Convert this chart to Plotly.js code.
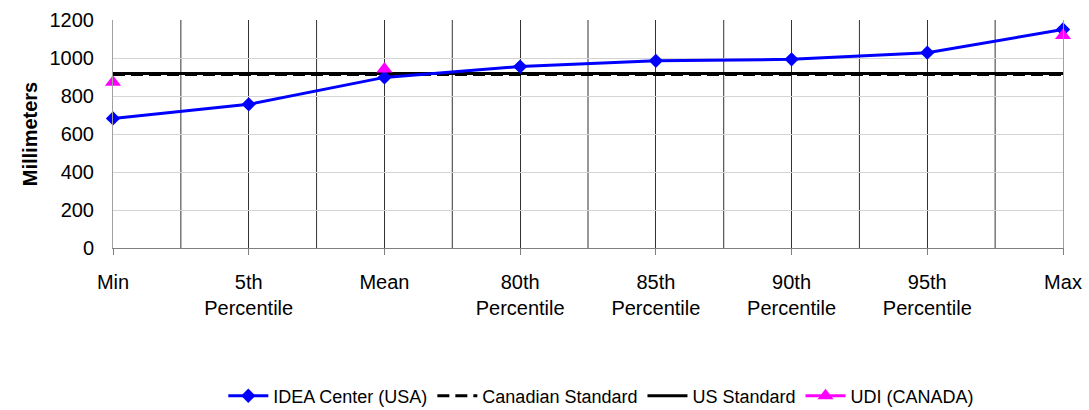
<!DOCTYPE html>
<html>
<head>
<meta charset="utf-8">
<script src="https://cdn.plot.ly/plotly-3.0.1.min.js"></script>
<style>html,body{margin:0;padding:0;background:#fff}#chart{width:1089px;height:410px}</style>
</head>
<body>
<div id="chart"></div>
<script>
const categories = ["Min", "5th Percentile", "Mean", "80th Percentile", "85th Percentile", "90th Percentile", "95th Percentile", "Max"];
const tickLabels = ["Min", "5th<br>Percentile", "Mean", "80th<br>Percentile", "85th<br>Percentile", "90th<br>Percentile", "95th<br>Percentile", "Max"];
const ideaCenter = [682, 756, 898, 955, 985, 993, 1028, 1150];
const canadianStandard = [913, 913, 913, 913, 913, 913, 913, 913];
const usStandard = [918, 918, 918, 918, 918, 918, 918, 918];
const udiCanada = [872, null, 942, null, null, null, null, 1118];
const yTicks = [0, 200, 400, 600, 800, 1000, 1200];

const xIdx = categories.map((c, i) => i);

const traces = [
  {x: xIdx, y: canadianStandard, name: "Canadian Standard", mode: "lines", cliponaxis: false,
   line: {color: "#000000", width: 3, dash: "12px,6px"}, legendrank: 2},
  {x: xIdx, y: usStandard, name: "US Standard", mode: "lines", cliponaxis: false,
   line: {color: "#000000", width: 3}, legendrank: 3},
  {x: xIdx, y: ideaCenter, name: "IDEA Center (USA)", mode: "lines+markers", cliponaxis: false,
   line: {color: "#0000FF", width: 3}, marker: {symbol: "diamond", size: 11, color: "#0000FF"}, legendrank: 1},
  {x: xIdx, y: udiCanada, name: "UDI (CANADA)", mode: "lines+markers", connectgaps: false, cliponaxis: false,
   line: {color: "#FF00FF", width: 3}, marker: {symbol: "triangle-up", size: 14, color: "#FF00FF"}, legendrank: 4}
];

const shapes = [];
for (let i = 0; i < categories.length - 1; i++) {
  shapes.push({type: "line", xref: "x", yref: "paper", x0: i + 0.5, x1: i + 0.5, y0: 0, y1: 1,
    line: {color: "#333333", width: 1}, layer: "below"});
}

const layout = {
  width: 1089, height: 410,
  margin: {l: 113, r: 26, t: 20, b: 162, autoexpand: false},
  paper_bgcolor: "#ffffff", plot_bgcolor: "#ffffff",
  font: {family: "Liberation Sans, Arial, sans-serif", color: "#000000", size: 18},
  showlegend: true,
  legend: {orientation: "h", x: 0.514, xanchor: "center", yref: "container", y: 0.034, yanchor: "middle",
    font: {size: 18}, traceorder: "normal", itemwidth: 40},
  xaxis: {
    range: [0, 7], tickmode: "array", tickvals: xIdx, ticktext: tickLabels,
    showgrid: true, gridcolor: "#333333", gridwidth: 1,
    showline: true, linecolor: "#808080", linewidth: 1,
    ticks: "outside", ticklen: 6, tickcolor: "#808080", ticklabelstandoff: 10,
    zeroline: false, tickfont: {size: 20}, fixedrange: true, automargin: false
  },
  yaxis: {
    range: [0, 1200], tickmode: "array", tickvals: yTicks,
    showgrid: true, gridcolor: "#d4d4d4", gridwidth: 1,
    showline: true, linecolor: "#a0a0a0", linewidth: 1, mirror: true,
    ticks: "", zeroline: false, tickfont: {size: 20}, ticklabelstandoff: 14, automargin: false,
    title: {text: "<b>Millimeters</b>", font: {size: 20}, standoff: 6}
  },
  shapes: shapes
};

Plotly.newPlot("chart", traces, layout, {displayModeBar: false, staticPlot: true});
</script>
</body>
</html>
